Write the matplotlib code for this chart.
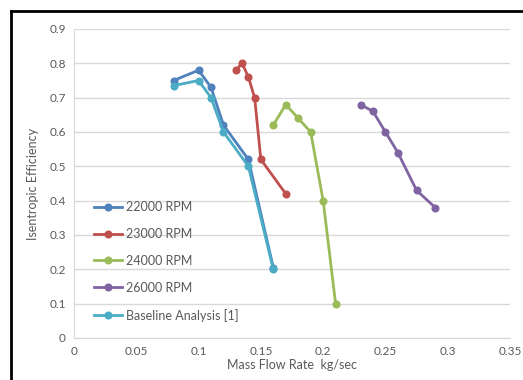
import matplotlib
matplotlib.use("Agg")
import matplotlib.pyplot as plt
from matplotlib.lines import Line2D

plt.rcParams['font.family'] = ['Lato', 'DejaVu Sans']

x22 = [0.08, 0.10, 0.11, 0.12, 0.14, 0.16]
y22 = [0.75, 0.78, 0.73, 0.62, 0.52, 0.205]
x23 = [0.13, 0.135, 0.14, 0.145, 0.15, 0.17]
y23 = [0.78, 0.80, 0.76, 0.70, 0.52, 0.42]
x24 = [0.16, 0.17, 0.18, 0.19, 0.20, 0.21]
y24 = [0.62, 0.68, 0.64, 0.60, 0.40, 0.10]
x26 = [0.23, 0.24, 0.25, 0.26, 0.275, 0.29]
y26 = [0.68, 0.66, 0.60, 0.54, 0.43, 0.38]
xb = [0.08, 0.10, 0.11, 0.12, 0.14, 0.16]
yb = [0.735, 0.75, 0.70, 0.60, 0.50, 0.20]

labels = ["22000 RPM", "23000 RPM", "24000 RPM", "26000 RPM", "Baseline Analysis [1]"]
colors = ["#4F81BD", "#C0504D", "#9BBB59", "#8064A2", "#4BACC6"]
xticks = [0, 0.05, 0.1, 0.15, 0.2, 0.25, 0.3, 0.35]
xticklabels = ["0", "0.05", "0.1", "0.15", "0.2", "0.25", "0.3", "0.35"]
yticks = [0, 0.1, 0.2, 0.3, 0.4, 0.5, 0.6, 0.7, 0.8, 0.9]
yticklabels = ["0", "0.1", "0.2", "0.3", "0.4", "0.5", "0.6", "0.7", "0.8", "0.9"]

fig = plt.figure(figsize=(5.23, 3.8), dpi=100)
ax = fig.add_axes([74/523, 1-338/380, (510-74)/523, (338-29)/380])

series = [(x22, y22), (x23, y23), (x24, y24), (x26, y26), (xb, yb)]
handles = []
for (xs, ys), c, lab in zip(series, colors, labels):
    h, = ax.plot(xs, ys, color=c, lw=2.0, marker='o', ms=4.8, label=lab, zorder=3)
    handles.append(h)

ax.set_xlim(0, 0.35)
ax.set_ylim(0, 0.9)
ax.set_xticks(xticks)
ax.set_xticklabels(xticklabels)
ax.set_yticks(yticks)
ax.set_yticklabels(yticklabels)
ax.grid(axis='y', color='#D9D9D9', lw=1.0)
ax.set_axisbelow(True)
for s in ['top', 'right']:
    ax.spines[s].set_visible(False)
ax.spines['left'].set_color('#D9D9D9')
ax.spines['bottom'].set_color('#D9D9D9')
ax.tick_params(length=0, labelsize=8.5, labelcolor='#595959', pad=6)
ax.set_xlabel("Mass Flow Rate  kg/sec", fontsize=9, color='#595959', labelpad=1)
ax.set_ylabel("Isentropic Efficiency", fontsize=9, color='#595959', labelpad=7)

leg = ax.legend(handles=handles, loc='lower left', bbox_to_anchor=(0.025, 0.025),
                frameon=False, fontsize=9, labelspacing=1.19, handlelength=2.3,
                handletextpad=0.3, borderaxespad=0.3)
for t in leg.get_texts():
    t.set_color('#595959')

# outer frame lines (top and left)
fig.add_artist(Line2D([11/523, 1.0], [1-11/380, 1-11/380], color='black', lw=2.0,
                      transform=fig.transFigure))
fig.add_artist(Line2D([11/523, 11/523], [0, 1-11/380], color='black', lw=2.0,
                      transform=fig.transFigure))

fig.savefig("out.png", dpi=100)
